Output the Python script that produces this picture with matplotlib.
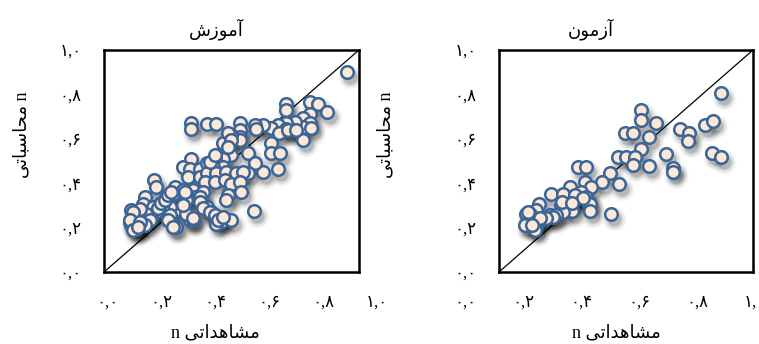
import matplotlib
matplotlib.use('Agg')
import matplotlib.pyplot as plt
from matplotlib.transforms import offset_copy

plt.rcParams['font.family'] = ['Liberation Serif', 'DejaVu Sans']

# Arabic text written in presentation forms, visual order (no shaping in matplotlib)
title_train = '\uFEB5\uFEAF\uFEEE\uFEE3\uFE81'            # آموزش
title_test = '\uFEE5\uFEEE\uFEE3\uFEAF\uFE81'             # آزمون
xlabel_txt = 'n \uFEF0\uFE97\uFE8D\uFEAA\uFEEB\uFE8E\uFEB8\uFEE3'   # n مشاهداتی
ylabel_txt = '\uFEF0\uFE97\uFE8E\uFE92\uFEB3\uFE8E\uFEA4\uFEE3 n'   # n محاسباتی

tick_vals = [0.0, 0.2, 0.4, 0.6, 0.8, 1.0]

train_obs = [0.953, 0.715, 0.715, 0.807, 0.839, 0.875, 0.807, 0.780, 0.807, 0.780, 0.813,
             0.748, 0.715, 0.682, 0.715, 0.748, 0.780, 0.656, 0.686, 0.624, 0.591, 0.597,
             0.532, 0.532, 0.532, 0.532, 0.499, 0.467, 0.342, 0.342, 0.402, 0.438,
             0.656, 0.656, 0.689, 0.682, 0.624, 0.565, 0.591, 0.565,
             0.499, 0.467, 0.434, 0.467, 0.428, 0.342, 0.310, 0.336, 0.375, 0.402,
             0.329, 0.375, 0.402, 0.441, 0.480, 0.519, 0.545,
             0.395, 0.434, 0.473, 0.499, 0.532, 0.539, 0.486, 0.480,
             0.195, 0.205, 0.160, 0.153, 0.277, 0.271, 0.310, 0.349, 0.356,
             0.388, 0.382, 0.402, 0.421, 0.441, 0.460, 0.499, 0.441, 0.588, 0.281,
             0.336, 0.349, 0.323, 0.323, 0.297, 0.323, 0.244, 0.258, 0.231, 0.218,
             0.192, 0.205, 0.186, 0.107, 0.140, 0.114, 0.153, 0.101, 0.127, 0.107, 0.133,
             0.166, 0.179, 0.159, 0.414, 0.434, 0.316, 0.375, 0.140, 0.114, 0.101, 0.127,
             0.212, 0.225, 0.238, 0.251, 0.264, 0.258, 0.251, 0.271, 0.310, 0.349,
             0.375, 0.388, 0.414, 0.434, 0.447, 0.467, 0.140, 0.114, 0.133,
             0.722, 0.754, 0.486, 0.499, 0.486]
train_calc = [0.899, 0.759, 0.729, 0.767, 0.756, 0.722, 0.711, 0.692, 0.669, 0.651, 0.647,
              0.677, 0.669, 0.662, 0.642, 0.639, 0.594, 0.647, 0.624, 0.662, 0.662, 0.642,
              0.669, 0.639, 0.609, 0.594, 0.617, 0.579, 0.669, 0.642, 0.665, 0.665,
              0.579, 0.534, 0.534, 0.466, 0.451, 0.534, 0.489, 0.444,
              0.526, 0.511, 0.511, 0.474, 0.474, 0.511, 0.474, 0.466, 0.466, 0.489,
              0.429, 0.429, 0.444, 0.444, 0.451, 0.444, 0.451,
              0.406, 0.406, 0.414, 0.398, 0.406, 0.361, 0.346, 0.323,
              0.414, 0.383, 0.338, 0.308, 0.383, 0.353, 0.368, 0.368, 0.338,
              0.361, 0.316, 0.293, 0.271, 0.248, 0.226, 0.233, 0.218, 0.274, 0.203,
              0.233, 0.236, 0.353, 0.323, 0.278, 0.263, 0.338, 0.293, 0.278, 0.308,
              0.293, 0.271, 0.248, 0.278, 0.278, 0.248, 0.248, 0.226, 0.226, 0.211, 0.203,
              0.263, 0.233, 0.211, 0.495, 0.527, 0.362, 0.339, 0.285, 0.270, 0.234, 0.195,
              0.287, 0.309, 0.324, 0.347, 0.362, 0.257, 0.234, 0.204, 0.302, 0.242,
              0.317, 0.287, 0.272, 0.257, 0.234, 0.249, 0.227, 0.189, 0.204,
              0.640, 0.640, 0.626, 0.595, 0.565]

test_obs = [0.875, 0.558, 0.558, 0.619, 0.497, 0.527, 0.589, 0.711, 0.748, 0.744, 0.810,
            0.843, 0.558, 0.656, 0.840, 0.875, 0.468, 0.501, 0.534, 0.528, 0.589, 0.685,
            0.685, 0.311, 0.344, 0.436, 0.406, 0.471, 0.340, 0.364, 0.278, 0.206, 0.252,
            0.304, 0.324, 0.344, 0.350, 0.357, 0.357, 0.285, 0.245, 0.289, 0.252, 0.156,
            0.147, 0.108, 0.121, 0.199, 0.226, 0.167, 0.108, 0.134, 0.147, 0.140, 0.442,
            0.101, 0.213, 0.186, 0.299, 0.332, 0.247, 0.286, 0.116, 0.161, 0.129]
test_calc = [0.805, 0.729, 0.684, 0.669, 0.624, 0.624, 0.609, 0.642, 0.624, 0.591, 0.662,
             0.680, 0.556, 0.531, 0.537, 0.519, 0.516, 0.516, 0.516, 0.481, 0.478, 0.469,
             0.451, 0.471, 0.471, 0.448, 0.406, 0.395, 0.406, 0.383, 0.383, 0.350, 0.350,
             0.346, 0.361, 0.338, 0.316, 0.305, 0.275, 0.308, 0.301, 0.275, 0.271, 0.308,
             0.278, 0.263, 0.263, 0.256, 0.256, 0.233, 0.218, 0.226, 0.203, 0.188, 0.263,
             0.211, 0.248, 0.241, 0.347, 0.332, 0.317, 0.309, 0.272, 0.242, 0.212]

W, H = 759, 344
fig = plt.figure(figsize=(W / 100, H / 100), dpi=100)

def fa(v):
    s = ('%.1f' % v).replace('.', ',')
    return s.translate(str.maketrans('0123456789', '\u06f0\u06f1\u06f2\u06f3\u06f4\u06f5\u06f6\u06f7\u06f8\u06f9'))

def panel(left, right, lab_left, lab_right, xs, ys, title, title_x, ylab_x, xlab_x):
    ax = fig.add_axes([left / W, (H - 272) / H, (right - left) / W, 222 / H])
    ax.set_xlim(0, 1)
    ax.set_ylim(0, 1)
    ax.plot([0, 1], [0, 1], color='black', lw=0.9, zorder=1)
    # soft drop shadow
    tr = offset_copy(ax.transData, fig=fig, x=3, y=-5, units='dots')
    for s, a in [(300, 0.03), (230, 0.045), (170, 0.06), (125, 0.08), (95, 0.10)]:
        ax.scatter(xs, ys, s=s, color='black', alpha=a, lw=0, transform=tr, zorder=2)
    ax.scatter(xs, ys, s=82, facecolor='#FDE7D7', edgecolor='#3A6598', lw=1.8, zorder=3)
    for sp in ax.spines.values():
        sp.set_linewidth(1.8)
    ax.set_xticks([])
    ax.set_yticks(tick_vals)
    ax.set_yticklabels([fa(v) for v in tick_vals], fontsize=12)
    ax.tick_params(axis='y', length=0, pad=16)
    ax.set_title(title, fontsize=13, x=title_x, y=1.03)
    ax.set_ylabel(ylabel_txt, fontsize=13)
    ax.yaxis.set_label_coords(ylab_x, 0.62)
    # x tick labels sit on their own strip, as in the source chart
    lab = fig.add_axes([lab_left / W, (H - 272) / H, (lab_right - lab_left) / W, 0.0001])
    lab.set_xlim(0, 1)
    lab.set_xticks(tick_vals)
    lab.set_xticklabels([fa(v) for v in tick_vals], fontsize=12)
    lab.tick_params(axis='x', length=0, pad=16)
    lab.set_yticks([])
    for sp in lab.spines.values():
        sp.set_visible(False)
    lab.patch.set_visible(False)
    fig.text(xlab_x / W, 1 - 333 / H, xlabel_txt, fontsize=13, ha='center', va='center')
    return ax

panel(104, 359, 107, 377, train_obs, train_calc, title_train, 0.44, -0.29, 215)
panel(499, 753, 465, 755, test_obs, test_calc, title_test, 0.36, -0.41, 616)

fig.savefig('out.png', dpi=100)
